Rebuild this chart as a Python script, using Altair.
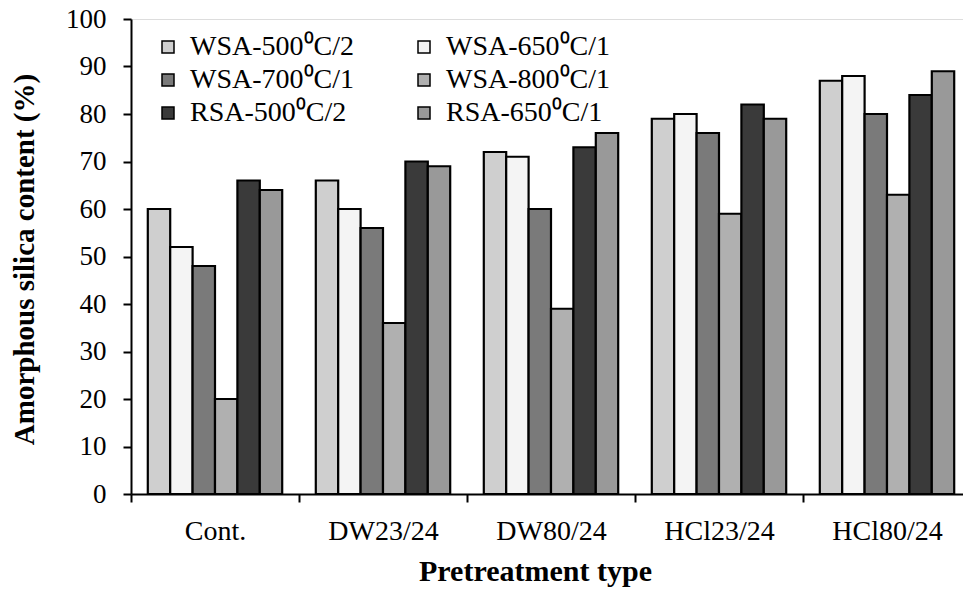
import altair as alt
import pandas as pd

categories = ["Cont.", "DW23/24", "DW80/24", "HCl23/24", "HCl80/24"]
series = ["WSA-500⁰C/2", "WSA-650⁰C/1", "WSA-700⁰C/1",
          "WSA-800⁰C/1", "RSA-500⁰C/2", "RSA-650⁰C/1"]

wsa500 = [60, 66, 72, 79, 87]
wsa650 = [52, 60, 71, 80, 88]
wsa700 = [48, 56, 60, 76, 80]
wsa800 = [20, 36, 39, 59, 63]
rsa500 = [66, 70, 73, 82, 84]
rsa650 = [64, 69, 76, 79, 89]

fills = ["#cfcfcf", "#f4f4f4", "#7a7a7a", "#b0b0b0", "#3a3a3a", "#999999"]

values = [wsa500, wsa650, wsa700, wsa800, rsa500, rsa650]
rows = []
for s, vals in zip(series, values):
    for c, v in zip(categories, vals):
        rows.append({"Pretreatment": c, "Series": s, "Value": v})
df = pd.DataFrame(rows)

FONT = "Liberation Serif"

chart = alt.Chart(df).mark_bar(stroke="black", strokeWidth=2.2).encode(
    x=alt.X(
        "Pretreatment:N", sort=categories,
        scale=alt.Scale(range=[0, 840], paddingInner=0, paddingOuter=0),
        axis=alt.Axis(
            title="Pretreatment type", tickBand="extent", labelAngle=0,
            labelFontSize=28, labelPadding=15, labelColor="black", labelFont=FONT,
            tickSize=8, tickWidth=2, tickColor="black",
            domainColor="black", domainWidth=2,
            titleFont=FONT, titleFontSize=30, titleFontWeight="bold", titleColor="black",
            titleX=404, titleY=86, titleBaseline="alphabetic", titleAlign="center",
        ),
    ),
    xOffset=alt.XOffset("Series:N", sort=series,
                        scale=alt.Scale(paddingInner=0, paddingOuter=0.75)),
    y=alt.Y(
        "Value:Q",
        scale=alt.Scale(domain=[0, 100], nice=False),
        axis=alt.Axis(
            title="Amorphous silica content (%)",
            values=list(range(0, 101, 10)), grid=False,
            labelFontSize=27, labelPadding=17, labelColor="black", labelFont=FONT,
            tickSize=8, tickWidth=2, tickColor="black",
            domainColor="black", domainWidth=2,
            titleFont=FONT, titleFontSize=29, titleFontWeight="bold", titleColor="black",
            titleX=-107, titleY=240, titleAngle=270, titleAlign="center",
            titleBaseline="middle",
        ),
    ),
    color=alt.Color(
        "Series:N", sort=series,
        scale=alt.Scale(domain=series, range=fills),
        legend=alt.Legend(
            title=None, orient="none", legendX=23, legendY=14, columns=2,
            direction="horizontal",
            symbolType="square", symbolSize=144, symbolStrokeColor="black",
            symbolStrokeWidth=1.5, labelFontSize=28, labelFont=FONT,
            labelColor="black", labelOffset=8, columnPadding=56, rowPadding=5,
            labelLimit=400, padding=0,
        ),
    ),
).properties(
    width=832, height=475,
    autosize=alt.AutoSizeParams(type="none"),
    padding={"left": 131, "top": 19, "right": 0, "bottom": 96},
).configure_view(stroke=None).configure(font=FONT)

chart.save("out.html", embed_options={"renderer": "svg", "actions": False})
